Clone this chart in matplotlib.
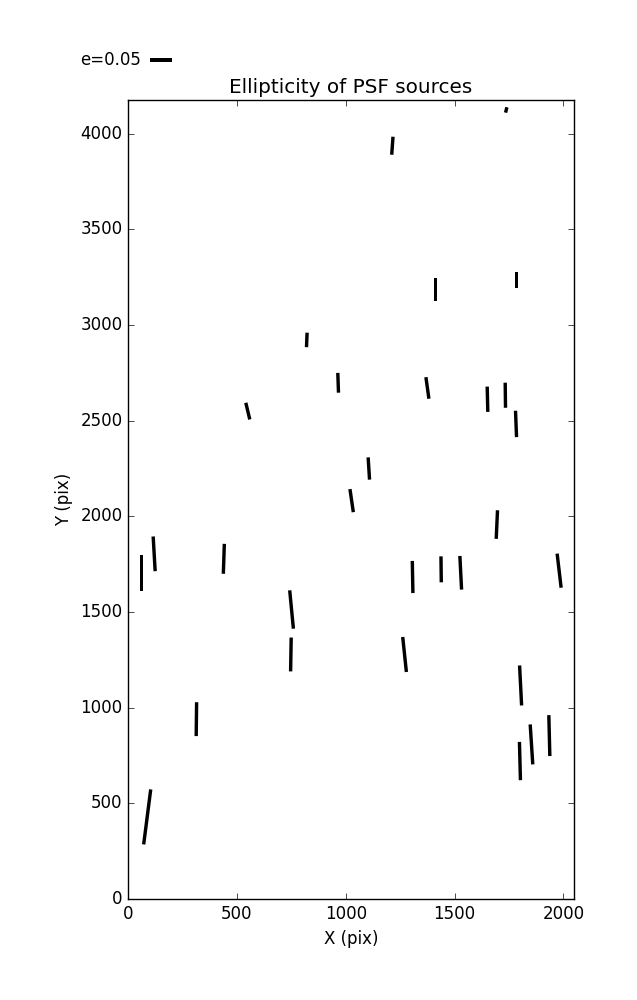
import matplotlib
matplotlib.use("Agg")
import matplotlib.pyplot as plt
import numpy as np

# PSF source positions on the detector (pix)
x_pos = [88, 63, 120, 440, 751, 748, 314, 821, 965, 1375,
         1651, 1733, 1782, 1106, 1027, 1694, 1307, 1438, 1528, 1270,
         1980, 1803, 1800, 1853, 1935, 1737, 1214, 1413, 1783, 550]
y_pos = [429, 1705, 1804, 1778, 1513, 1278, 940, 2922, 2698, 2671,
         2612, 2633, 2483, 2250, 2082, 1957, 1683, 1723, 1705, 1278,
         1716, 1116, 721, 808, 854, 4124, 3937, 3185, 3235, 2550]
# ellipticity modulus and position angle (deg from +X)
ellip = [0.126, 0.083, 0.079, 0.068, 0.0875, 0.077, 0.077, 0.033, 0.045, 0.0495,
         0.0575, 0.057, 0.060, 0.0507, 0.053, 0.065, 0.073, 0.059, 0.0766, 0.080,
         0.078, 0.091, 0.087, 0.091, 0.093, 0.0125, 0.041, 0.053, 0.036, 0.039]
pos_angle = [82.7, 90.0, 93.3, 88.1, 95.5, 89.0, 89.3, 87.6, 92.0, 97.9,
             91.4, 90.7, 92.2, 93.6, 98.3, 87.4, 91.1, 90.7, 92.9, 96.0,
             96.7, 92.9, 91.5, 93.7, 91.4, 76.0, 85.9, 90.0, 90.0, 103.4]

key_e = 0.05

plt.style.use('classic')
fig = plt.figure(figsize=(6.37, 10), dpi=100, facecolor='white')
ax = fig.add_axes([0.201, 0.101, 0.700, 0.799])

theta = np.radians(pos_angle)
e = np.array(ellip)
u = e * np.cos(theta)
v = e * np.sin(theta)

# headless whiskers centred on each source
q = ax.quiver(x_pos, y_pos, u, v, color='k', pivot='middle',
              headwidth=0, headlength=0, headaxislength=0,
              units='inches', width=0.034,
              scale_units='inches', scale=key_e / 0.22)
# key: tail of the bar sits at X when label is on the west side
ax.quiverkey(q, 0.2355, 0.94, key_e, 'e=%.2f' % key_e,
             labelpos='W', labelsep=0.09, coordinates='figure',
             fontproperties={'size': 12})

ax.set_xlim(0, 2048)
ax.set_ylim(0, 4176)
ax.set_xlabel('X (pix)')
ax.set_ylabel('Y (pix)')
ax.set_title('Ellipticity of PSF sources')

fig.savefig('out.png', dpi=100, facecolor='white')
